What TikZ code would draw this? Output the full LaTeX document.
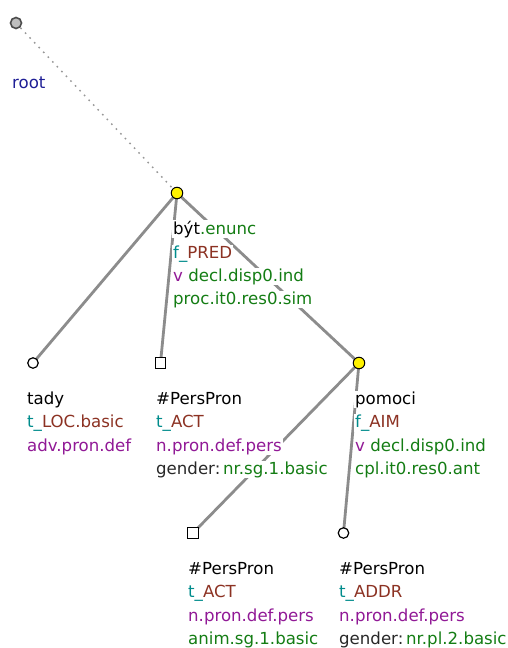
\documentclass[tikz,border=0pt]{standalone}
\usepackage{fontspec}
\setmainfont{DejaVu Sans}
\definecolor{cteal}{RGB}{0,140,140}
\definecolor{cbrown}{RGB}{140,50,35}
\definecolor{cpurp}{RGB}{145,25,150}
\definecolor{cgreen}{RGB}{20,125,20}
\definecolor{cnavy}{RGB}{30,30,150}
\definecolor{cgray}{RGB}{40,40,40}
\definecolor{cedge}{RGB}{140,140,140}
\begin{document}
\begin{tikzpicture}[x=1pt,y=-1pt,
  lbl/.style={anchor=base west,inner xsep=1pt,inner ysep=0.5pt,fill=white,font=\fontsize{16.6}{18}\selectfont},
  edge/.style={draw=cedge,line width=2.8pt},
  rootedge/.style={draw=cedge!90,line width=1.4pt,dash pattern=on 1.6pt off 5pt},
  circnode/.style={circle,draw=black,line width=1.2pt,fill=white,minimum size=10.5pt,inner sep=0pt},
  yelnode/.style={circle,draw=black,line width=1pt,fill=yellow,minimum size=11.5pt,inner sep=0pt},
  sqnode/.style={rectangle,draw=black,line width=1.2pt,fill=white,minimum size=10.5pt,inner sep=0pt},
  rootnode/.style={circle,draw=black!70,line width=1.6pt,fill=black!25,minimum size=11pt,inner sep=0pt}]
\useasboundingbox (0,0) rectangle (508,648);
\fill[white] (0,0) rectangle (508,648);
% nodes
\coordinate (r) at (16,23);
\coordinate (b) at (177,193);
\coordinate (t) at (33,363);
\coordinate (p1) at (160.5,363);
\coordinate (po) at (359,363);
\coordinate (p2) at (193,533);
\coordinate (ad) at (343.5,533);
% edges
\draw[rootedge] (r) -- (b);
\draw[edge] (b) -- (t);
\draw[edge] (b) -- (p1);
\draw[edge] (b) -- (po);
\draw[edge] (po) -- (p2);
\draw[edge] (po) -- (ad);
% markers
\node[rootnode] (rn) at (r) {};
\node[yelnode] (bn) at (b) {};
\node[circnode] (tn) at (t) {};
\node[sqnode] (p1n) at (p1) {};
\node[yelnode] (pon) at (po) {};
\node[sqnode] (p2n) at (p2) {};
\node[circnode] (adn) at (ad) {};
% labels
\node[lbl] (rl) at (11,88) {\textcolor{cnavy}{root}};
\node[lbl] (b1) at (172,234) {být\textcolor{cgreen}{.enunc}};
\node[lbl] (b2) at (172,258) {\textcolor{cteal}{f\_}\textcolor{cbrown}{PRED}};
\node[lbl] (b3) at (172,281) {\textcolor{cpurp}{v} \textcolor{cgreen}{decl.disp0.ind}};
\node[lbl] (b4) at (172,304.5) {\textcolor{cgreen}{proc.it0.res0.sim}};
\node[lbl] (t1) at (26,404) {tady};
\node[lbl] (t2) at (26,427.5) {\textcolor{cteal}{t\_}\textcolor{cbrown}{LOC.basic}};
\node[lbl] (t3) at (26,451) {\textcolor{cpurp}{adv.pron.def}};
\node[lbl] (q1) at (155,404) {\#PersPron};
\node[lbl] (q2) at (155,427.5) {\textcolor{cteal}{t\_}\textcolor{cbrown}{ACT}};
\node[lbl] (q3) at (155,451) {\textcolor{cpurp}{n.pron.def.pers}};
\node[lbl] (q4) at (155,474.5) {\textcolor{cgray}{gender:}\,\textcolor{cgreen}{nr.sg.1.basic}};
\node[lbl] (o1) at (354,404) {pomoci};
\node[lbl] (o2) at (354,427.5) {\textcolor{cteal}{f\_}\textcolor{cbrown}{AIM}};
\node[lbl] (o3) at (354,451) {\textcolor{cpurp}{v} \textcolor{cgreen}{decl.disp0.ind}};
\node[lbl] (o4) at (354,474.5) {\textcolor{cgreen}{cpl.it0.res0.ant}};
\node[lbl] (s1) at (187,574) {\#PersPron};
\node[lbl] (s2) at (187,597.5) {\textcolor{cteal}{t\_}\textcolor{cbrown}{ACT}};
\node[lbl] (s3) at (187,621) {\textcolor{cpurp}{n.pron.def.pers}};
\node[lbl] (s4) at (187,644.5) {\textcolor{cgreen}{anim.sg.1.basic}};
\node[lbl] (a1) at (338,574) {\#PersPron};
\node[lbl] (a2) at (338,597.5) {\textcolor{cteal}{t\_}\textcolor{cbrown}{ADDR}};
\node[lbl] (a3) at (338,621) {\textcolor{cpurp}{n.pron.def.pers}};
\node[lbl] (a4) at (338,644.5) {\textcolor{cgray}{gender:}\,\textcolor{cgreen}{nr.pl.2.basic}};
\end{tikzpicture}
\end{document}
